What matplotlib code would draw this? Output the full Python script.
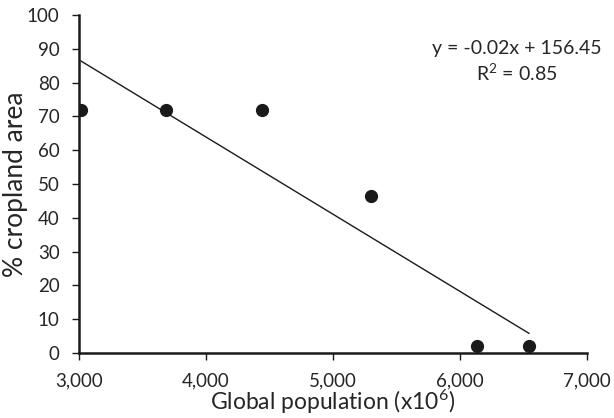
import numpy as np
import matplotlib
matplotlib.use("Agg")
import matplotlib.pyplot as plt

plt.rcParams['font.family'] = ['Lato', 'DejaVu Sans']
plt.rcParams['mathtext.fontset'] = 'custom'
plt.rcParams['mathtext.rm'] = 'Lato'
plt.rcParams['mathtext.it'] = 'Lato:italic'
plt.rcParams['mathtext.default'] = 'regular'

# global population (millions) vs % cropland area
population = [3016, 3685, 4441, 5299, 6134, 6543]
cropland = [72, 72, 72, 46.5, 2, 2]
eq_text = "y = -0.02x + 156.45\nR$^2$ = 0.85"

fig = plt.figure(figsize=(6.14, 4.18), dpi=100)
ax = fig.add_axes([0.1287, 0.1555, 0.8273, 0.8086])

ax.plot(population, cropland, 'o', color='#1a1a1a', markersize=8.5, zorder=3)

# linear trendline over data range
k, b = np.polyfit(population, cropland, 1)
xs = np.array([min(population), max(population)])
ax.plot(xs, k * xs + b, color='#1a1a1a', lw=1)

ax.set_xlim(3000, 7000)
ax.set_ylim(0, 100)
ax.set_xticks(range(3000, 7001, 1000))
ax.set_xticklabels([f"{v:,}" for v in range(3000, 7001, 1000)])
ax.set_yticks(range(0, 101, 10))

for s in ['top', 'right']:
    ax.spines[s].set_visible(False)
for s in ['left', 'bottom']:
    ax.spines[s].set_linewidth(1.8)
    ax.spines[s].set_color('#1a1a1a')
ax.tick_params(direction='out', length=5, width=1, color='#1a1a1a',
               labelsize=13.5, labelcolor='#262626')
ax.tick_params(axis='x', pad=9)
ax.tick_params(axis='y', pad=9)

ax.set_xlabel("Global population (x10$^6$)", fontsize=16.5, color='#262626', labelpad=-1)
ax.yaxis.set_label_coords(-0.101, 0.49)
ax.set_ylabel("% cropland area", fontsize=19, color='#262626')

ax.text(6450, 86, eq_text, ha='center', va='center', fontsize=14,
        color='#262626', linespacing=1.3)

fig.savefig("out.png", dpi=100)
